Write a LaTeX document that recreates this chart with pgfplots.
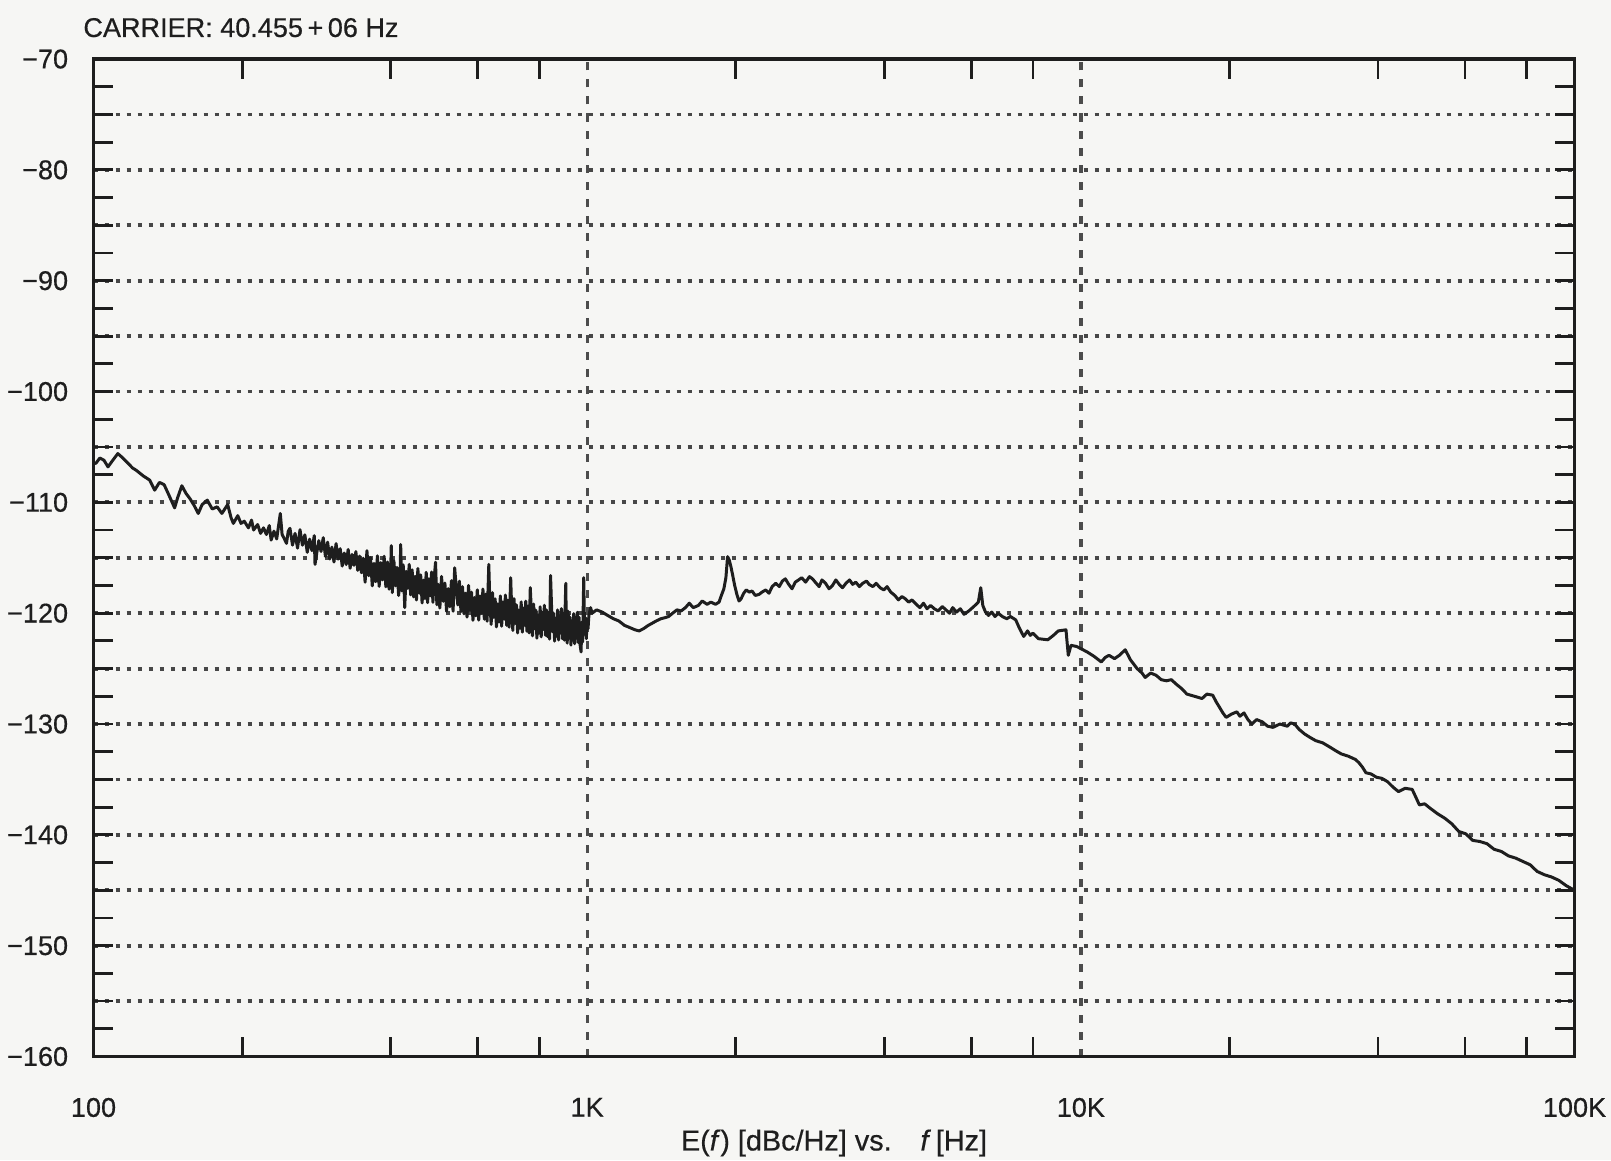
\documentclass[border=0pt]{standalone}
\usepackage{fontspec}
\setmainfont{Liberation Sans}[FakeBold=0.5]
\usepackage{pgfplots}
\pgfplotsset{compat=1.18}
\definecolor{bgcol}{RGB}{246,246,244}
\definecolor{ink}{RGB}{30,30,30}

\begin{document}
\begin{tikzpicture}
  % page: 1611 x 1160 px at 0.1 mm per px, axis box at the origin
  \useasboundingbox (-9.35mm,-10.35mm) rectangle (151.75mm,105.65mm);
  \fill[bgcol] (-9.35mm,-10.35mm) rectangle (151.75mm,105.65mm);
  \begin{axis}[
      xmode=log,
      width=148.1mm, height=99.75mm, scale only axis,
      xmin=100, xmax=100000, ymin=-160, ymax=-70,
      axis line style={line width=0.9pt, color=ink},
      tick style={line width=0.8pt, color=ink},
      tick align=inside,
      major tick length=2mm, minor tick length=2mm,
      xtick={100,1000,10000,100000},
      xticklabels={100,1K,10K,100K},
      major x tick style={draw=none},
      minor xtick={200,400,600,800,2000,4000,6000,8000,20000,40000,60000,80000},
      ytick={-160,-155,...,-70},
      yticklabels={−160,,−150,,−140,,−130,,−120,,−110,,−100,,−90,,−80,,−70},
      minor ytick={-157.5,-152.5,...,-72.5},
      xmajorgrids, ymajorgrids,
      major x grid style={dash pattern=on 0.8mm off 0.9mm, line width=0.33mm, color=black!70},
      major y grid style={dash pattern=on 0.4mm off 0.7mm, line width=0.38mm, color=black!72},
      tick label style={font=\fontsize{7.7}{9}\selectfont, color=ink},
      xticklabel style={anchor=north, yshift=-2.9mm},
      yticklabel style={anchor=east, xshift=-1.3mm},
      xlabel={E(\textit{f}) [dBc/Hz] vs.\quad\textit{f}\,[Hz]},
      xlabel style={at={(axis description cs:0.5,0)}, anchor=center, yshift=-8.65mm,
                    font=\fontsize{8.2}{10}\selectfont, color=ink},
      title={CARRIER: 40.455\,+\,06 Hz},
      title style={at={(axis description cs:0,1)}, anchor=base west, xshift=-2.25mm, yshift=0.1mm,
                   font=\fontsize{7.7}{9}\selectfont, color=ink},
    ]
    \addplot[line width=0.85pt, color=ink, line join=round] table {
100 -106.4
101 -106.5
103 -106.0
105 -106.2
107 -106.8
109 -106.3
112 -105.6
114 -105.9
117 -106.4
120 -106.9
122 -107.1
126 -107.6
130 -108.0
133 -108.9
136 -108.2
139 -108.4
142 -109.3
146 -110.5
148 -109.6
151 -108.5
154 -109.2
157 -109.7
160 -110.3
163 -111.0
166 -110.2
170 -109.8
174 -110.6
178 -110.4
182 -111.0
187 -110.2
190 -111.4
192 -111.9
196 -111.2
199 -111.9
202 -111.7
206 -112.3
209 -111.6
211 -112.5
215 -112.0
218 -112.8
221 -112.3
224 -112.9
227 -112.1
229 -113.4
232 -112.6
235 -113.3
239 -111.0
241 -112.9
243 -113.2
246 -113.7
248 -112.6
250 -112.34
253 -113.86
256 -112.80
259 -114.13
262 -112.47
265 -113.87
268 -112.93
271 -114.51
274 -113.32
277 -114.36
280 -113.00
281 -115.6
283 -114.70
286 -113.46
289 -114.43
292 -113.19
295 -114.89
298 -113.59
301 -115.11
304 -114.04
307 -115.38
310 -113.72
313 -115.12
316 -114.18
319 -115.75
322 -114.57
325 -115.61
328 -114.25
331 -115.95
334 -114.70
337 -115.68
340 -114.44
343 -116.14
346 -114.84
349 -116.35
352 -115.04
355 -117.20
358 -114.36
361 -116.62
364 -114.98
367 -117.54
370 -115.50
373 -117.16
376 -114.82
379 -117.58
382 -115.44
385 -117.00
388 -114.86
391 -117.62
394 -115.38
397 -117.84
400 -116.00
401 -113.9
403 -118.14
406 -115.28
409 -117.53
412 -115.87
415 -118.41
418 -116.35
419 -113.8
421 -117.99
424 -115.64
427 -119.5
430 -116.22
433 -117.76
436 -115.60
439 -118.35
442 -116.09
445 -118.53
448 -116.67
451 -118.81
454 -115.96
457 -118.20
460 -116.54
463 -119.08
466 -117.02
469 -118.67
472 -116.31
475 -119.05
478 -116.89
481 -118.43
484 -116.28
487 -119.02
490 -116.76
493 -115.4
496 -119.24
499 -117.39
503 -119.54
507 -116.68
511 -118.93
515 -117.28
519 -119.83
523 -117.78
527 -119.42
531 -117.07
535 -119.82
539 -115.9
543 -117.72
547 -119.26
551 -117.11
555 -119.86
559 -117.61
563 -120.06
567 -118.20
571 -120.35
575 -117.50
579 -119.75
583 -118.10
587 -120.64
591 -118.59
595 -120.24
599 -117.89
603 -120.62
607 -118.46
611 -119.99
615 -117.82
619 -120.55
623 -118.28
627 -120.72
632 -115.6
635 -118.88
639 -121.01
643 -118.14
647 -120.38
651 -118.71
655 -121.24
659 -119.17
663 -120.80
667 -118.44
671 -121.17
675 -119.00
679 -120.53
683 -118.36
687 -121.10
691 -118.83
695 -121.26
700 -116.8
703 -119.42
707 -121.56
711 -118.69
715 -120.92
719 -119.25
723 -121.78
727 -119.72
731 -121.35
735 -118.98
739 -121.71
743 -119.54
747 -121.08
751 -118.91
755 -121.63
759 -119.36
763 -121.78
767 -117.7
771 -119.93
775 -122.05
779 -119.18
783 -121.40
787 -119.72
791 -122.25
795 -120.17
799 -121.80
803 -119.42
807 -122.14
811 -119.95
815 -121.46
819 -119.28
823 -121.99
827 -119.70
831 -122.12
835 -120.23
839 -122.34
843 -116.6
847 -119.46
851 -121.68
855 -120.00
859 -122.52
863 -120.45
867 -122.08
871 -119.70
875 -122.42
879 -120.24
883 -121.76
887 -119.58
891 -122.30
895 -120.02
899 -122.44
905 -117.3
907 -120.58
911 -122.70
915 -119.82
919 -122.04
923 -120.36
927 -122.88
931 -120.80
935 -122.42
939 -120.04
943 -122.76
947 -120.58
951 -122.10
955 -119.92
959 -122.64
963 -120.36
967 -122.78
972 -123.5
975 -120.8
979 -122.6
984 -116.8
988 -121.9
992 -120.4
996 -122.3
1000 -120.6
1004 -121.4
1008 -120.2
1016 -119.5
1023 -120.0
1045 -119.7
1072 -119.9
1100 -120.2
1130 -120.5
1159 -120.7
1190 -121.1
1220 -121.3
1250 -121.5
1274 -121.6
1300 -121.4
1330 -121.1
1355 -120.9
1380 -120.7
1410 -120.5
1440 -120.4
1462 -120.3
1490 -120.0
1520 -119.7
1550 -119.8
1581 -119.5
1610 -119.1
1640 -119.5
1680 -119.3
1710 -118.9
1750 -119.2
1780 -119.0
1820 -119.2
1850 -119.0
1870 -118.4
1892 -117.8
1910 -116.8
1925 -114.9
1940 -115.2
1955 -115.8
1970 -116.5
1990 -117.5
2010 -118.3
2030 -118.9
2050 -118.7
2075 -118.2
2100 -117.9
2130 -118.1
2158 -118.0
2190 -118.4
2230 -118.3
2260 -118.1
2300 -117.9
2335 -118.2
2370 -117.6
2410 -117.3
2450 -117.6
2485 -117.1
2520 -116.9
2560 -117.4
2600 -117.8
2640 -117.2
2680 -117.0
2720 -116.8
2770 -117.2
2820 -116.7
2860 -116.9
2910 -117.3
2950 -117.6
2990 -117.0
3040 -117.3
3090 -117.8
3140 -117.5
3190 -117.0
3240 -117.4
3290 -117.7
3344 -117.3
3400 -117.0
3450 -117.4
3500 -117.2
3560 -117.6
3617 -117.3
3680 -117.1
3724 -117.4
3790 -117.6
3850 -117.3
3920 -117.7
3990 -117.9
4050 -117.6
4120 -118.1
4200 -118.4
4270 -118.8
4340 -118.5
4410 -118.7
4480 -119.0
4550 -118.8
4640 -119.2
4720 -119.5
4800 -119.1
4880 -119.6
4960 -119.3
5050 -119.6
5140 -119.8
5240 -119.4
5330 -119.7
5420 -120.0
5500 -119.5
5600 -119.9
5700 -119.6
5800 -120.1
5930 -119.8
6070 -119.4
6200 -119.0
6270 -117.7
6330 -119.3
6410 -119.9
6500 -120.2
6600 -119.9
6700 -120.3
6800 -120.0
6934 -120.3
7080 -120.5
7200 -120.3
7380 -120.6
7500 -121.3
7660 -122.1
7800 -121.6
7900 -122.0
8000 -121.8
8200 -122.3
8570 -122.4
8800 -122.0
9000 -121.6
9330 -121.5
9430 -123.8
9550 -122.9
9800 -123.0
10000 -123.2
10300 -123.5
10640 -123.9
11000 -124.4
11200 -124.0
11400 -123.8
11700 -124.1
11970 -123.8
12300 -123.3
12600 -124.2
13000 -125.0
13300 -125.4
13500 -125.8
13850 -125.4
14200 -125.6
14550 -126.0
14900 -126.1
15250 -126.0
15600 -126.4
16000 -126.8
16400 -127.3
17000 -127.5
17600 -127.7
18000 -127.3
18500 -127.4
18800 -128.0
19100 -128.5
19400 -129.0
19700 -129.4
20200 -129.1
20700 -128.9
21000 -129.3
21400 -129.0
21800 -129.6
22200 -130.0
22700 -129.6
23300 -129.8
23900 -130.2
24500 -130.3
25300 -130.0
26200 -130.2
26600 -129.9
27100 -130.0
27700 -130.5
28400 -130.9
29100 -131.2
29900 -131.5
30900 -131.7
32000 -132.1
32800 -132.4
33700 -132.7
34800 -132.9
36000 -133.2
36600 -133.5
37200 -133.9
37800 -134.4
38700 -134.5
39700 -134.8
40700 -134.9
41800 -135.2
42900 -135.7
44000 -136.1
45400 -135.8
46900 -135.9
47700 -136.6
48500 -137.3
49700 -137.2
51000 -137.6
52800 -138.1
54600 -138.5
56400 -139.0
58300 -139.7
60200 -139.9
62200 -140.5
64300 -140.6
66500 -140.8
68700 -141.3
71100 -141.5
73500 -141.9
76000 -142.1
78600 -142.4
81300 -142.7
84000 -143.3
86900 -143.6
89800 -143.8
92900 -144.1
96300 -144.6
100000 -145.0
    };
  \end{axis}
\end{tikzpicture}
\end{document}
